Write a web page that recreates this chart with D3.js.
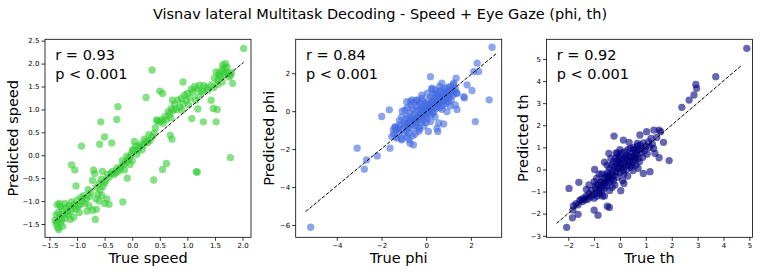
<!DOCTYPE html>
<html>
<head>
<meta charset="utf-8">
<script src="https://cdnjs.cloudflare.com/ajax/libs/d3/7.8.5/d3.min.js"></script>
<style>
  body { margin: 0; background: #fff; }
  svg { font-family: "DejaVu Sans", sans-serif; }
</style>
</head>
<body>
<svg id="chart" width="761" height="272"></svg>
<script>
// chart text
const titleText = "Visnav lateral Multitask Decoding - Speed + Eye Gaze (phi, th)";
const targetNames = ["speed", "phi", "th"];
const rValues = ["0.93", "0.84", "0.92"];
const pText = "p < 0.001";

// true vs predicted
const speedPoints = [
  [2.02,2.33],[0.36,1.86],[0.92,1.6],[0.5,1.4],[0.55,1.35],[0.25,1.26],[0.73,1.2],[-0.26,1.06],[-0.28,0.78],
  [-0.57,0.73],[-0.5,0.4],[-0.37,0.27],[-0.59,0.24],[-0.92,0.2],[-1.1,-0.21],[-1.04,-0.32],[1.78,-0.05],
  [1.16,-0.36],[1.18,-0.37],[0.62,-0.18],[0.55,-0.31],[0.39,-0.54],[-0.09,-0.5],[-0.17,-1.02],[-0.42,-1.07],
  [-0.67,-1.4],[-1.02,-0.67],[1.08,0.8],[1.29,0.73],[1.52,0.73],[1.47,1.02],[1.54,1.0],[1.43,1.2],[1.19,1.01],
  [0.69,0.44],[0.72,0.35],
  [1.82,1.57],[1.76,1.71],[1.69,2.0],[1.64,1.97],[1.58,1.79],[1.52,1.82],[1.49,1.68],[1.55,1.64],[1.43,1.53],
  [1.37,1.42],[1.62,1.85],[1.66,1.9],[1.7,1.82],[1.73,1.78],[1.78,1.75],[1.6,1.72],[1.57,1.75],[1.67,1.75],
  [1.72,1.92],[1.55,1.55],[1.63,1.6],[1.8,1.8],[1.48,1.48],
  [1.22,1.53],[1.13,1.5],[1.07,1.44],[1.0,1.35],[0.95,1.31],[0.89,1.24],[0.83,1.21],[0.77,1.12],[0.71,1.02],
  [0.65,0.95],[0.59,0.84],[0.53,0.77],[0.46,0.75],[0.5,0.73],[0.44,0.77],[1.3,1.52],[1.25,1.4],[1.18,1.45],
  [1.1,1.38],[1.05,1.25],[0.98,1.2],[0.92,1.12],[0.86,1.05],[0.8,1.0],[0.75,0.98],[0.68,0.9],[0.62,0.78],
  [0.56,0.7],[1.35,1.48],[1.2,1.28],[1.02,1.1],[0.9,0.98],[0.7,0.82],[1.28,1.38],[1.15,1.2],
  [0.42,0.6],[0.4,0.48],[0.36,0.4],[0.32,0.32],[0.28,0.28],[0.25,0.3],[0.2,0.22],[0.15,0.25],[0.12,0.18],
  [0.1,0.1],[0.06,0.2],[0.04,0.3],[0.02,0.12],[0.0,0.1],[-0.02,0.02],[-0.05,-0.05],[-0.08,-0.1],[-0.1,-0.02],
  [-0.12,-0.15],[-0.15,-0.2],[-0.18,-0.12],[-0.2,-0.25],[-0.22,-0.3],[-0.25,-0.35],[-0.28,-0.28],[-0.3,-0.38],
  [-0.33,-0.42],[-0.36,-0.35],[-0.38,-0.4],[-0.04,-0.2],[0.0,-0.12],[0.08,0.02],[-0.14,-0.32],[0.18,0.12],
  [0.3,0.45],[0.22,0.35],
  [-0.42,-0.48],[-0.45,-0.42],[-0.48,-0.55],[-0.5,-0.6],[-0.53,-0.68],[-0.56,-0.52],[-0.58,-0.75],[-0.6,-0.62],
  [-0.62,-0.85],[-0.65,-0.7],[-0.68,-0.4],[-0.7,-0.32],[-0.72,-0.55],[-0.75,-0.82],[-0.78,-0.9],[-0.8,-0.75],
  [-0.83,-0.95],[-0.86,-1.05],[-0.88,-0.88],[-0.9,-1.0],[-0.93,-0.92],[-0.95,-1.08],[-0.98,-1.12],[-1.0,-0.98],
  [-0.66,-0.95],[-0.6,-1.0],[-0.55,-0.88],[-0.5,-1.05],[-0.46,-0.95],[-0.72,-1.2],[-0.78,-1.1],[-0.82,-1.22],
  [-0.65,-1.18],[-0.54,-0.35],
  [-1.02,-1.18],[-1.05,-1.08],[-1.08,-1.15],[-1.1,-1.02],[-1.12,-1.22],[-1.15,-1.1],[-1.18,-1.25],[-1.2,-1.15],
  [-1.22,-1.05],[-1.25,-1.3],[-1.27,-1.2],[-1.3,-1.12],[-1.32,-1.35],[-1.34,-1.25],[-1.36,-1.45],[-1.38,-1.5],
  [-1.35,-1.58],[-1.33,-1.62],[-1.3,-1.48],[-1.28,-1.4],[-1.36,-1.08],[-1.32,-1.05],[-1.38,-1.3],[-1.4,-1.42],
  [-1.26,-1.55],[-1.22,-1.38],[-1.06,-1.35],[-1.12,-1.4],[-0.96,-1.25],[-1.16,-1.3]
];

const phiPoints = [
  [2.95,3.37],[-5.17,-6.12],[-3.09,-1.95],[-2.67,-2.57],[-2.77,-3.06],[-2.19,-2.36],[-1.99,-0.28],[-1.65,0.07],
  [-1.62,-1.95],[2.28,2.53],[2.13,2.09],[2.35,2.09],[2.82,0.6],[2.2,-0.55],[1.71,0.7],[2.05,1.09],[1.83,1.39],
  [1.34,1.74],[1.23,1.48],[0.7,1.48],[0.19,1.82],[0.26,1.21],[0.4,1.12],[0.56,-0.62],[0.52,-1.07],[0.48,-0.9],
  [0.1,-1.07],[-0.33,-1.06],[-1.07,0.0],[-0.85,0.18],[-0.72,-1.69],[-0.57,-1.78],[-0.77,-1.5],[-0.19,0.68],
  [1.38,0.09],[1.3,0.33],[0.93,-0.02],[1.08,0.27],[0.78,-0.67],[1.68,0.77],[1.38,0.95],[-0.87,0.5],[-0.64,0.6],
  [-0.42,0.6],[-1.39,-0.81],[-1.47,-0.99],[-1.25,-0.9],[-1.54,-1.34],[-1.32,-1.42],[-1.09,-1.51],
  [-1.45,-1.2],[-1.4,-0.85],[-1.35,-1.0],[-1.3,-1.35],[-1.25,-0.9],[-1.2,-1.1],[-1.15,-0.7],[-1.1,-1.45],
  [-1.05,-0.95],[-1.0,-0.6],[-0.98,-1.2],[-0.95,-0.8],[-0.9,-0.4],[-0.88,-1.0],[-0.85,-0.65],[-0.82,-0.25],
  [-0.8,-0.85],[-0.78,-1.15],[-0.75,-0.5],[-0.72,-0.1],[-0.7,-0.7],[-0.68,0.3],[-0.65,-0.35],[-0.62,-0.9],
  [-0.6,0.1],[-0.58,-0.55],[-0.55,-0.2],[-0.52,0.45],[-0.5,-0.75],[-0.48,-0.4],[-0.45,0.0],[-0.42,-0.6],
  [-0.4,0.25],[-0.38,-0.3],[-0.35,-0.85],[-0.32,0.1],[-0.3,-0.45],[-0.28,0.4],[-0.25,-0.15],[-0.22,-0.6],
  [-0.2,0.2],[-0.18,-0.3],[-0.15,0.5],[-0.12,-0.05],[-0.1,-0.45],[-0.08,0.3],[-0.05,0.05],[-0.02,-0.25],
  [0.0,0.4],[0.02,0.0],[0.05,-0.4],[0.08,0.25],[0.1,0.6],[0.12,-0.1],[0.15,0.35],[0.18,0.1],[0.2,0.75],
  [0.22,-0.2],[0.25,0.45],[0.28,0.2],[0.3,0.9],[0.32,0.55],[0.35,0.0],[0.38,0.35],[0.4,0.7],[0.42,0.15],
  [0.45,0.95],[0.48,0.5],[0.5,0.25],[0.52,0.8],[0.55,0.4],[0.58,1.05],[0.6,0.6],[0.62,0.2],[0.65,0.85],
  [0.68,0.45],[0.7,1.1],[0.72,0.7],[0.75,0.3],[0.78,0.95],[0.8,0.55],[0.82,1.2],[0.85,0.8],[0.88,0.4],
  [0.9,1.0],[0.92,0.65],[0.95,1.25],[0.98,0.85],[1.0,0.5],[1.02,1.1],[1.05,0.75],[1.08,1.3],[1.1,0.95],
  [1.12,0.6],[1.15,1.15],[1.2,0.85],[1.22,1.4],[1.25,1.05],[1.3,1.2],[1.35,0.95],[-0.6,-1.3],[-0.3,-0.95],
  [-0.1,-0.8],[0.2,-0.55],[0.4,-0.3],[-1.2,-0.5],[-0.95,0.05],[-0.7,0.5],[-0.4,0.55],[-0.2,0.85],[0.05,0.95],
  [0.25,1.15],[0.6,1.3],[-0.5,-1.2],[0.0,-0.6],[0.3,-0.1],[0.7,0.1],[-0.85,-1.35],[-1.1,-0.3],
  [-0.3,-0.2],[-0.15,0.1],[0.1,0.2],[0.35,0.5],[0.6,0.75],[-0.55,-0.5],[-0.8,-0.6],[0.5,0.55],[-0.05,-0.1]
];

const thPoints = [
  [4.9,5.48],[3.7,4.2],[2.93,3.85],[2.96,3.67],[2.86,3.37],[2.67,3.14],[2.39,2.81],[1.9,0.4],[1.68,1.23],
  [1.51,1.78],[1.57,1.71],[1.31,1.78],[1.42,1.45],[1.35,0.73],[1.51,0.53],[1.16,-0.1],[0.9,-0.18],[-0.23,1.51],
  [-1.97,-0.86],[-1.59,-0.58],[-2.06,-2.62],[-1.84,-2.19],[-1.82,-1.84],[-1.62,-2.03],[-0.85,-2.07],
  [-1.0,-1.84],[-0.49,-1.66],[-0.41,-1.72],[0.03,-0.96],[0.15,-0.63],[-0.68,-1.2],[-0.75,-0.56],[-0.94,-0.71],
  [-0.98,0.0],[-0.81,-0.21],[-0.43,0.73],[-0.1,0.73],[0.13,1.33],[0.35,1.23],[0.67,1.18],[0.77,1.56],[1.03,1.71],
  [-1.55,-1.4],[-1.5,-1.35],[-1.45,-1.45],[-1.4,-1.3],[-1.35,-1.38],[-1.3,-1.2],[-1.25,-1.35],[-1.2,-1.1],
  [-1.15,-1.25],[-1.1,-0.95],[-1.05,-1.15],[-1.0,-1.3],[-0.95,-0.85],[-0.92,-1.05],[-0.88,-1.2],[-0.85,-0.7],
  [-0.82,-0.95],[-0.78,-1.1],[-0.75,-0.8],[-0.72,-0.55],[-0.7,-0.95],[-0.65,-0.7],[-0.62,-0.4],[-0.6,-0.85],
  [-0.58,-0.6],[-0.55,-0.25],[-0.52,-0.75],[-0.5,-0.45],[-0.48,-0.15],[-0.45,-0.6],[-0.42,-0.35],[-0.4,0.05],
  [-0.38,-0.5],[-0.35,-0.2],[-0.32,0.2],[-0.3,-0.4],[-0.28,-0.05],[-0.25,0.35],[-0.22,-0.25],[-0.2,0.1],
  [-0.18,0.5],[-0.15,-0.1],[-0.12,0.25],[-0.1,-0.35],[-0.08,0.4],[-0.05,0.05],[-0.02,0.6],[0.0,-0.15],
  [0.02,0.25],[0.05,0.75],[0.08,0.1],[0.1,0.45],[0.12,-0.05],[0.15,0.3],[0.18,0.8],[0.2,0.15],[0.22,0.55],
  [0.25,0.0],[0.28,0.4],[0.3,0.9],[0.32,0.2],[0.35,0.6],[0.38,0.35],[0.4,0.95],[0.42,0.1],[0.45,0.5],
  [0.48,0.75],[0.5,0.3],[0.52,1.0],[0.55,0.6],[0.58,0.45],[0.6,0.85],[0.62,0.2],[0.65,0.7],[0.68,1.05],
  [0.7,0.5],[0.72,0.9],[0.75,0.35],[0.78,1.1],[0.8,0.75],[0.85,0.95],[0.88,0.55],[0.9,1.2],[0.95,0.85],
  [1.0,1.05],[1.05,0.7],[1.1,1.25],[1.15,1.0],[1.2,1.4],[1.25,1.15],[1.3,0.95],[-1.7,-1.55],[-1.62,-1.6],
  [-1.8,-1.65],[-1.2,-0.7],[-1.0,-0.55],[-0.9,-0.4],[-0.7,-0.2],[-0.5,0.2],[-0.35,0.5],[-0.15,0.75],[0.0,0.9],
  [0.3,-0.3],[0.1,-0.5],[-0.2,-0.7],[-0.4,-0.95],[0.5,-0.05],[0.7,0.05],[-0.6,-1.2],[-0.3,-0.8],[-1.3,-0.9],
  [-0.05,0.5],[0.25,0.65],[0.45,0.2],[-0.25,-0.5],[0.15,-0.2],[-0.6,0.33],[0.0,0.3],[0.2,0.5],[0.4,0.6],
  [0.6,0.55],[-0.45,-0.3],[-0.1,0.1],[0.55,0.9]
];

// dashed reference line ends
const speedLine = [[-1.40, -1.43], [2.02, 2.03]];
const phiLine = [[-5.4, -5.3], [3.13, 3.03]];
const thLine = [[-2.45, -2.44], [4.67, 4.68]];

// ticks
const speedXTicks = [-1.5, -1.0, -0.5, 0.0, 0.5, 1.0, 1.5, 2.0];
const speedYTicks = [-1.5, -1.0, -0.5, 0.0, 0.5, 1.0, 1.5, 2.0, 2.5];
const phiXTicks = [-4, -2, 0, 2];
const phiYTicks = [-6, -4, -2, 0, 2];
const thXTicks = [-2, -1, 0, 1, 2, 3, 4, 5];
const thYTicks = [-3, -2, -1, 0, 1, 2, 3, 4, 5];

const panels = [
  { pts: speedPoints, line: speedLine, xt: speedXTicks, yt: speedYTicks, xd: [-1.581, 2.153], yd: [-1.79, 2.53],
    color: "limegreen", fmt: ".1f", left: 45, labelX: 18 },
  { pts: phiPoints, line: phiLine, xt: phiXTicks, yt: phiYTicks, xd: [-5.84, 3.38], yd: [-6.65, 3.79],
    color: "royalblue", fmt: "d", left: 295.7, labelX: 274 },
  { pts: thPoints, line: thLine, xt: thXTicks, yt: thYTicks, xd: [-2.84, 5.12], yd: [-3.07, 5.89],
    color: "navy", fmt: "d", left: 546.5, labelX: 527.5 }
];

const svg = d3.select("#chart");
const plotTop = 39.3, plotBottom = 237.3, w = 206;

svg.append("text")
  .attr("x", 380).attr("y", 19)
  .attr("text-anchor", "middle")
  .style("font-size", "14.5px")
  .text(titleText);

panels.forEach((p, i) => {
  const x = d3.scaleLinear().domain(p.xd).range([p.left, p.left + w]);
  const y = d3.scaleLinear().domain(p.yd).range([plotBottom, plotTop]);
  const fmt = d => d3.format(p.fmt)(d).replace("-", "\u2212");
  const g = svg.append("g");

  g.selectAll("circle")
    .data(p.pts)
    .enter()
    .append("circle")
    .attr("cx", d => x(d[0]))
    .attr("cy", d => y(d[1]))
    .attr("r", 3.65)
    .attr("fill", p.color)
    .attr("fill-opacity", 0.6);

  g.append("path")
    .datum(p.line)
    .attr("d", d3.line().x(d => x(d[0])).y(d => y(d[1])))
    .attr("fill", "none")
    .attr("stroke", "#000")
    .attr("stroke-width", 1)
    .attr("stroke-dasharray", "3.7,1.6");

  const xAxis = g.append("g")
    .attr("transform", `translate(0,${plotBottom})`)
    .call(d3.axisBottom(x).tickValues(p.xt).tickFormat(fmt).tickSize(3.5).tickPadding(2));
  const yAxis = g.append("g")
    .attr("transform", `translate(${p.left},0)`)
    .call(d3.axisLeft(y).tickValues(p.yt).tickFormat(fmt).tickSize(3.5).tickPadding(2));
  [xAxis, yAxis].forEach(a => {
    a.select(".domain").remove();
    a.selectAll("line").attr("stroke", "#000").attr("stroke-width", 0.8);
    a.selectAll("text").attr("fill", "#000").style("font-size", "7px").style("font-family", "DejaVu Sans");
  });

  g.append("rect")
    .attr("x", p.left).attr("y", plotTop)
    .attr("width", w).attr("height", plotBottom - plotTop)
    .attr("fill", "none")
    .attr("stroke", "#000")
    .attr("stroke-width", 0.8);

  g.append("text")
    .attr("x", p.left + 0.05 * w).attr("y", 59.5)
    .style("font-size", "14.5px")
    .text("r = " + rValues[i]);
  g.append("text")
    .attr("x", p.left + 0.05 * w).attr("y", 79)
    .style("font-size", "14.5px")
    .text(pText);

  g.append("text")
    .attr("x", p.left + w / 2).attr("y", 263)
    .attr("text-anchor", "middle")
    .style("font-size", "14.5px")
    .text("True " + targetNames[i]);
  g.append("text")
    .attr("transform", `translate(${p.labelX},${(plotTop + plotBottom) / 2}) rotate(-90)`)
    .attr("text-anchor", "middle")
    .style("font-size", "14.5px")
    .text("Predicted " + targetNames[i]);
});
</script>
</body>
</html>
